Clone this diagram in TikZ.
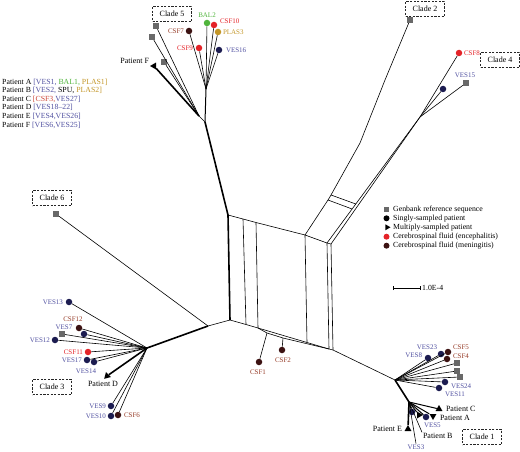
\documentclass[tikz,border=0pt]{standalone}
\usepackage{fontspec}
\setmainfont{Liberation Serif}
\usetikzlibrary{shapes.geometric}
\definecolor{vesdot}{RGB}{28,28,80}
\definecolor{vestext}{RGB}{80,80,160}
\definecolor{csfred}{RGB}{228,35,40}
\definecolor{csfbrown}{RGB}{60,18,18}
\definecolor{csfbrowntext}{RGB}{150,60,40}
\definecolor{balgreen}{RGB}{80,180,60}
\definecolor{plasgold}{RGB}{195,150,40}
\definecolor{sqgray}{RGB}{105,105,105}
\definecolor{csfmid}{RGB}{205,70,55}
\begin{document}
\begin{tikzpicture}[x=1pt,y=-1pt,
  dotbase/.style={circle,inner sep=0pt,minimum size=6.5pt},
  vdot/.style={dotbase,fill=vesdot},
  rdot/.style={dotbase,fill=csfred},
  bdot/.style={dotbase,fill=csfbrown},
  gdot/.style={dotbase,fill=balgreen},
  pdot/.style={dotbase,fill=plasgold},
  kdot/.style={dotbase,fill=black},
  gsq/.style={rectangle,fill=sqgray,inner sep=0pt,minimum size=6pt},
  tri/.style={regular polygon,regular polygon sides=3,fill=black,inner sep=0pt,minimum size=8pt},
  lab/.style={font=\fontsize{7}{8}\selectfont,inner sep=0.8pt},
  vlab/.style={lab,text=vestext},
  rlab/.style={lab,text=csfred},
  blab/.style={lab,text=csfbrowntext},
  glab/.style={lab,text=balgreen},
  plab/.style={lab,text=plasgold},
  patlab/.style={font=\fontsize{8}{9}\selectfont,inner sep=0.8pt},
  leg/.style={font=\fontsize{7.8}{9}\selectfont,inner sep=0pt,anchor=west},
  clade/.style={draw=black!85,dashed,dash pattern=on 2.2pt off 1.4pt,line width=0.9pt,
    font=\fontsize{8}{9}\selectfont,minimum width=39pt,minimum height=15pt,inner sep=1pt},
  br/.style={draw=black,line width=0.6pt},
  mid/.style={draw=black,line width=1pt},
  thk/.style={draw=black,line width=1.6pt}]
\useasboundingbox (0,0) rectangle (520,452);

% ---------------- central network ----------------
\coordinate (nTL) at (228,215);
\coordinate (nBL) at (230,320);
\coordinate (t1) at (243,219);
\coordinate (t2) at (256,222.5);
\coordinate (t3) at (305,235);
\coordinate (t4) at (327,243);
\coordinate (t5) at (331,244);
\coordinate (b1) at (246,324.5);
\coordinate (b2) at (258,328);
\coordinate (b3) at (307,342.5);
\coordinate (b4) at (329,349);
\coordinate (b5) at (333,350);
\coordinate (l1) at (267,333);
\coordinate (l2) at (283,338);
\draw[br] (nTL) -- (t1) -- (t2) -- (t3) -- (t4) -- (t5);
\draw[br] (nBL) -- (b1) -- (b2) -- (b3) -- (b4) -- (b5);
\draw[thk] (nTL) -- (nBL);
\draw[br] (t1) -- (b1);
\draw[br] (t2) -- (b2);
\draw[br] (t3) -- (b3);
\draw[br] (t4) -- (b4);
\draw[br] (t5) -- (b5);
\draw[br] (b2) -- (l1) -- (l2) -- (b4);

% CSF1, CSF2
\node[bdot] (csf1) at (259,362) {};
\node[bdot] (csf2) at (282,350) {};
\draw[br] (l1) -- (csf1);
\draw[br] (l2) -- (csf2);
\node[blab] (csf1l) at (258,372) {CSF1};
\node[blab] (csf2l) at (283,360) {CSF2};

% ---------------- clade 5 and patient F ----------------
\coordinate (j5b) at (205,122);
\coordinate (jF) at (199,116);
\coordinate (j5) at (206,89);
\draw[thk] (nTL) -- (j5b);
\draw[br] (j5b) -- (jF);
\draw[mid] (j5b) -- (j5);
\node[gsq] (sqF1) at (156,26) {};
\node[gsq] (sqF2) at (152,37) {};
\node[gsq] (sqF3) at (164,62) {};
\node[tri,shape border rotate=90] (triF) at (154,66) {};
\draw[br] (jF) -- (sqF1);
\draw[br] (jF) -- (sqF2);
\draw[br] (jF) -- (sqF3);
\draw[thk] (jF) -- (triF);
\node[patlab,anchor=east] (triFl) at (150,61) {Patient F};

\node[bdot] (csf7) at (189,31) {};
\node[gdot] (bal2) at (207,23) {};
\node[rdot] (csf10) at (214,25) {};
\node[pdot] (plas3) at (218,32) {};
\node[rdot] (csf9) at (199,48) {};
\node[vdot] (ves16) at (219,50) {};
\foreach \n in {csf7,bal2,csf10,plas3,csf9,ves16} \draw[br] (j5) -- (\n);
\node[blab,anchor=east] (csf7l) at (185,31) {CSF7};
\node[glab] (bal2l) at (207,15) {BAL2};
\node[rlab,anchor=west] (csf10l) at (219,21) {CSF10};
\node[plab,anchor=west] (plas3l) at (222,32) {PLAS3};
\node[rlab,anchor=east] (csf9l) at (194,48) {CSF9};
\node[vlab,anchor=west] (ves16l) at (225,50) {VES16};
\node[clade] (c5) at (172,14) {Clade 5};

% ---------------- clade 2 ----------------
\coordinate (c2b) at (328,200);
\coordinate (c2c) at (331,195);
\coordinate (c2d) at (360,143);
\coordinate (c2e) at (385,80);
\node[gsq] (sq2) at (410,20) {};
\draw[br] (t3) -- (c2b) -- (c2c) -- (c2d) -- (c2e) -- (sq2);
\node[clade] (c2) at (425,9) {Clade 2};

% ---------------- clade 4 ----------------
\coordinate (j4) at (420,117);
\coordinate (r1) at (355.8,204);
\coordinate (r2) at (352.1,209);
\draw[br] (t4) -- (j4);
\draw[br] (t5) -- (j4);
\draw[br] (c2c) -- (r1);
\draw[br] (c2b) -- (r2);
\node[rdot] (csf8) at (459,53) {};
\node[vdot] (ves15) at (443,89) {};
\node[gsq] (sq4) at (466,83) {};
\draw[br] (j4) -- (csf8);
\draw[br] (j4) -- (ves15);
\draw[br] (j4) -- (sq4);
\node[rlab,anchor=west] (csf8l) at (463,53) {CSF8};
\node[vlab] (ves15l) at (465,75) {VES15};
\node[clade] (c4) at (500,60) {Clade 4};

% ---------------- clade 6 ----------------
\coordinate (j6) at (208,326);
\node[gsq] (sq6) at (56,214) {};
\draw[br] (sq6) -- (j6);
\draw[br] (j6) -- (nBL);
\node[clade] (c6) at (52,198) {Clade 6};

% ---------------- clade 3 ----------------
\coordinate (j3) at (147,348);
\draw[thk] (j3) -- (j6);
\node[vdot] (ves13) at (69,302) {};
\node[bdot] (csf12) at (79,328) {};
\node[vdot] (ves7) at (84,334) {};
\node[gsq] (sq3) at (62,334) {};
\node[vdot] (ves12) at (55,340) {};
\node[rdot] (csf11) at (88,352) {};
\node[vdot] (ves17) at (87,360) {};
\node[vdot] (ves14) at (94,362) {};
\node[tri,shape border rotate=135] (triD) at (107,376) {};
\node[vdot] (ves9) at (111,406) {};
\node[vdot] (ves10) at (111,416) {};
\node[bdot] (csf6) at (118,415) {};
\foreach \n in {ves13,csf12,ves7,sq3,ves12,csf11,ves17,ves14,ves9,ves10,csf6} \draw[br] (j3) -- (\n);
\draw[thk] (j3) -- (triD);
\node[vlab,anchor=east] (ves13l) at (64,302) {VES13};
\node[blab] (csf12l) at (73,319) {CSF12};
\node[vlab] (ves7l) at (64,327) {VES7};
\node[vlab,anchor=east] (ves12l) at (51,340) {VES12};
\node[rlab,anchor=east] (csf11l) at (84,352) {CSF11};
\node[vlab,anchor=east] (ves17l) at (83,360) {VES17};
\node[vlab] (ves14l) at (86,371) {VES14};
\node[patlab] (triDl) at (103,384) {Patient D};
\node[vlab,anchor=east] (ves9l) at (107,406) {VES9};
\node[vlab,anchor=east] (ves10l) at (107,416) {VES10};
\node[blab,anchor=west] (csf6l) at (123,415) {CSF6};
\node[clade] (c3) at (52,387) {Clade 3};

% ---------------- clade 1 ----------------
\coordinate (j1) at (395,380);
\coordinate (j1b) at (409,402);
\draw[br] (b5) -- (j1);
\draw[thk] (j1) -- (j1b);
\node[vdot] (ves8) at (428,358) {};
\node[vdot] (ves23) at (441,354) {};
\node[bdot] (csf5) at (448,352) {};
\node[bdot] (csf4) at (447,359) {};
\node[gsq] (sq1a) at (457,363) {};
\node[gsq] (sq1b) at (457,371) {};
\node[gsq] (sq1c) at (460,377) {};
\node[vdot] (ves24) at (445,382) {};
\node[vdot] (ves11) at (439,388) {};
\foreach \n in {ves8,ves23,csf5,csf4,sq1a,sq1b,sq1c,ves24,ves11} \draw[br] (j1) -- (\n);
\node[vlab,anchor=east] (ves8l) at (423,355) {VES8};
\node[vlab] (ves23l) at (427,347) {VES23};
\node[blab,anchor=west] (csf5l) at (452,347) {CSF5};
\node[blab,anchor=west] (csf4l) at (452,356) {CSF4};
\node[vlab,anchor=west] (ves24l) at (450,386) {VES24};
\node[vlab,anchor=west] (ves11l) at (444,394) {VES11};

\node[tri] (triC) at (439,409) {};
\node[tri,shape border rotate=180] (triA) at (433,416) {};
\node[vdot] (ves5) at (426,417) {};
\node[tri,shape border rotate=270] (triB) at (419,415) {};
\node[vdot] (ves3) at (412,412) {};
\node[tri] (triE) at (408,429) {};
\node[patlab,anchor=west] (triCl) at (445,409) {Patient C};
\node[patlab,anchor=west] (triAl) at (439,418) {Patient A};
\node[vlab,anchor=west] (ves5l) at (423,425) {VES5};
\node[patlab,anchor=west] (triBl) at (422,436) {Patient B};
\node[vlab] (ves3l) at (416,447) {VES3};
\node[patlab,anchor=east] (triEl) at (403,429) {Patient E};
\foreach \n in {triC,triA,ves5,triB,ves3} \draw[mid] (j1b) -- (\n);
\draw[thk] (j1b) -- (triE);
\draw[br] (j1b) -- (ves3l.north);
\draw[br] (j1b) -- (triBl.north west);
\node[clade] (c1) at (482,437) {Clade 1};

% ---------------- patient legend ----------------
\node[leg] (pa) at (2,82) {Patient A \textcolor{vestext}{[VES1,} \textcolor{balgreen}{BAL1,} \textcolor{plasgold}{PLAS1]}};
\node[leg] (pb) at (2,90.6) {Patient B \textcolor{vestext}{[VES2,} SPU, \textcolor{plasgold}{PLAS2]}};
\node[leg] (pc) at (2,99.2) {Patient C \textcolor{csfmid}{[CSF3,}\textcolor{vestext}{VES27]}};
\node[leg] (pd) at (2,107.8) {Patient D \textcolor{vestext}{[VES18--22]}};
\node[leg] (pe) at (2,116.4) {Patient E \textcolor{vestext}{[VES4,VES26]}};
\node[leg] (pf) at (2,125) {Patient F \textcolor{vestext}{[VES6,VES25]}};

% ---------------- symbol legend ----------------
\node[gsq,minimum size=5.5pt] (lg1) at (386.5,209.3) {};
\node[kdot,minimum size=6pt] (lg2) at (386.5,218.3) {};
\node[tri,shape border rotate=270,minimum size=7pt] (lg3) at (387,227.3) {};
\node[rdot,minimum size=6pt] (lg4) at (386.5,236.7) {};
\node[bdot,minimum size=6pt] (lg5) at (386.5,245.7) {};
\node[leg] (lt1) at (393,209.3) {Genbank reference sequence};
\node[leg] (lt2) at (393,218.3) {Singly-sampled patient};
\node[leg] (lt3) at (393,227.3) {Multiply-sampled patient};
\node[leg] (lt4) at (393,236.7) {Cerebrospinal fluid (encephalitis)};
\node[leg] (lt5) at (393,245.7) {Cerebrospinal fluid (meningitis)};

% ---------------- scale bar ----------------
\coordinate (sb1) at (393,288);
\coordinate (sb2) at (420,288);
\draw[br] (sb1) -- (sb2);
\draw[br] ([yshift=-2.2pt]sb1) -- ([yshift=2.2pt]sb1);
\draw[br] ([yshift=-2.2pt]sb2) -- ([yshift=2.2pt]sb2);
\node[leg] (sbl) at (422,288) {1.0E-4};
\end{tikzpicture}
\end{document}
